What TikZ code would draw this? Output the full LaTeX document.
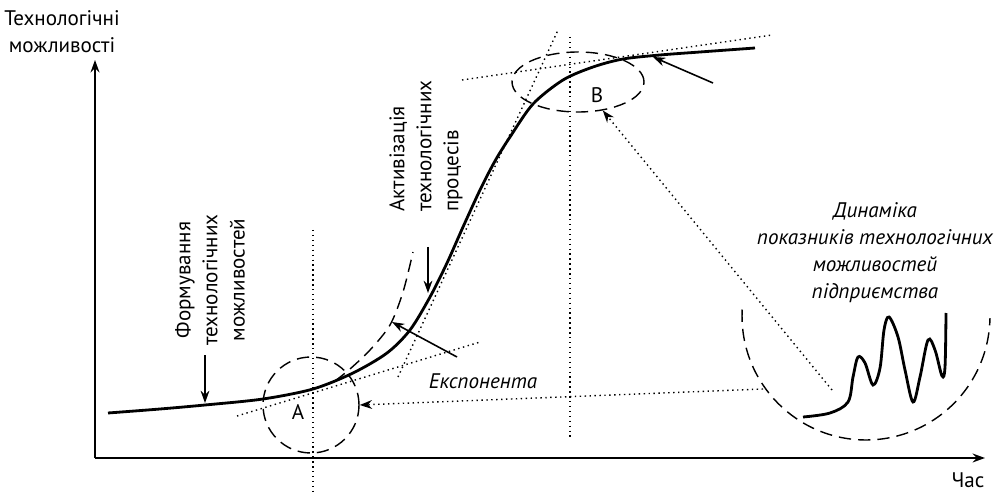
\documentclass[tikz,border=0pt]{standalone}
\usepackage{fontspec}
\setmainfont{PT Sans}
\usetikzlibrary{arrows.meta,shapes.geometric}

\begin{document}
\begin{tikzpicture}[x=0.02cm, y=0.02cm,
    font=\fontsize{12}{15.4}\selectfont,
    vis/.style={-{Stealth[length=7pt,width=5pt]}, line width=0.9pt},
    zone/.style={draw, line width=0.8pt, dash pattern=on 7pt off 4pt},
    guide/.style={line width=0.8pt, dotted}]
    \useasboundingbox (0,0) rectangle (999,497);

    % Osi
    \coordinate (O) at (95,39);
    \coordinate (Ytop) at (95,437);
    \coordinate (Xend) at (985,39);
    \draw[vis, line width=1.2pt] (O) -- (Ytop);
    \draw[vis, line width=1.2pt] (O) -- (Xend);
    \node[align=center] (ylab) at (62,465) {Технологічні\\можливості};
    \node (xlab) at (968,17) {Час};

    % S-krzywa
    \draw[line width=1.6pt] plot[smooth, tension=0.5] coordinates {
        (108,84) (160,88) (205,92) (263,98) (313,108) (353,124) (387,144)
        (410,167) (430,200) (447,234) (463,270) (480,307) (495,336)
        (510,360) (533,393) (563,417) (593,430) (623,438) (660,442)
        (700,445) (755,449)};

    % Linie pomocnicze
    \draw[guide] (313,267) -- (313,2);
    \draw[guide] (570,460) -- (570,60);
    \draw[guide] (237,81) -- (480,155);
    \draw[guide] (398,120) -- (558,467);
    \draw[guide] (462,417) -- (772,462);

    % Strefy A i B
    \node[zone, circle, minimum size=1.92cm, inner sep=0pt] (zoneA) at (311,92) {};
    \node[zone, ellipse, minimum width=2.64cm, minimum height=1.2cm, inner sep=0pt] (zoneB) at (578,415) {};
    \node (labA) at (298,85) {A};
    \node (labB) at (597,402) {B};

    % Eksponenta
    \draw[zone] plot[smooth] coordinates {(335,116) (350,128) (370,147) (390,172) (403,205) (413,245)};
    \node[font=\fontsize{12}{15.4}\selectfont\itshape] (expo) at (483,116) {Експонента};
    \coordinate (expoStart) at (457,140);
    \coordinate (expoEnd) at (392,175);
    \draw[vis] (expoStart) -- (expoEnd);

    % Etykiety pionowe
    \node[rotate=90, align=center] (formLab) at (210,217) {Формування\\технологічних\\можливостей};
    \coordinate (formStart) at (205,142);
    \coordinate (formEnd) at (205,94);
    \draw[vis] (formStart) -- (formEnd);

    \node[rotate=90, align=left, anchor=west] (activLab) at (426,279) {Активізація\\технологічних\\процесів};
    \coordinate (activStart) at (428,250);
    \coordinate (activEnd) at (428,204);
    \draw[vis] (activStart) -- (activEnd);

    % Nasycenie
    \coordinate (satStart) at (713,414);
    \coordinate (satEnd) at (653,440);
    \draw[vis] (satStart) -- (satEnd);

    % Dynamika
    \node[align=center, font=\fontsize{12}{15.4}\selectfont\itshape] (dynLab) at (875,244)
        {Динаміка\\показників технологічних\\можливостей\\підприємства};
    \draw[zone] (866,181) ++(177:2.48cm) arc (177:359:2.48cm);
    \draw[line width=1.6pt] plot[smooth, tension=0.55] coordinates {
        (803,80) (830,84) (848,95) (853,120) (858,140) (865,134) (873,112)
        (880,129) (884,167) (889,180) (898,160) (905,127) (913,95) (920,120)
        (928,157) (935,147) (942,121) (945,130) (946,184)};

    % Odsylacze
    \coordinate (dynA) at (763,108);
    \coordinate (dynB) at (832,107);
    \draw[vis, guide] (dynA) -- (zoneA.east);
    \draw[vis, guide] (dynB) -- (zoneB.-49);
\end{tikzpicture}
\end{document}
